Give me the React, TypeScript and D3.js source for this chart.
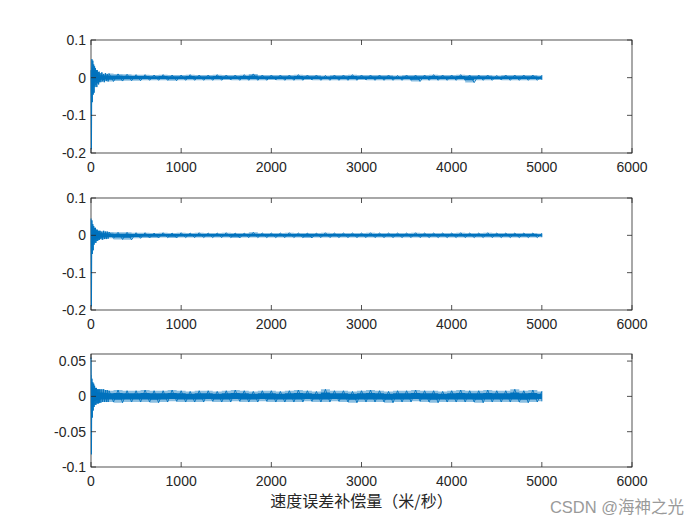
import React from "react";
import * as d3 from "d3";

// sample positions of envelope bins (fine near the start transient, 100 samples later)
const BIN_X = [
  0, 10, 20, 30, 40, 50, 60, 70, 80, 90, 100, 120, 140, 160, 180,
  200, 300, 400, 500, 600, 700, 800, 900, 1000, 1100,
  1200, 1300, 1400, 1500, 1600, 1700, 1800, 1900, 2000, 2100,
  2200, 2300, 2400, 2500, 2600, 2700, 2800, 2900, 3000, 3100,
  3200, 3300, 3400, 3500, 3600, 3700, 3800, 3900, 4000, 4100,
  4200, 4300, 4400, 4500, 4600, 4700, 4800, 4900, 5000,
];

// subplot 1 envelope (max / min of the signal within each bin)
const S1_HI = [
  0.02, 0.049, 0.045, 0.035, 0.03, 0.025, 0.02, 0.02, 0.015, 0.016, 0.012, 0.014, 0.01, 0.012, 0.01,
  0.011, 0.010, 0.009, 0.008, 0.008, 0.007, 0.008, 0.007, 0.007, 0.008,
  0.007, 0.007, 0.008, 0.007, 0.007, 0.008, 0.010, 0.007, 0.007, 0.007,
  0.007, 0.008, 0.007, 0.007, 0.006, 0.007, 0.007, 0.008, 0.007, 0.007,
  0.007, 0.007, 0.006, 0.007, 0.007, 0.007, 0.008, 0.007, 0.007, 0.008,
  0.007, 0.007, 0.007, 0.006, 0.007, 0.007, 0.007, 0.007, 0.006,
];
const S1_LO = [
  -0.19, -0.065, -0.045, -0.04, -0.025, -0.02, -0.025, -0.015, -0.018, -0.012, -0.012, -0.01, -0.012, -0.009, -0.01,
  -0.010, -0.009, -0.008, -0.008, -0.007, -0.007, -0.007, -0.008, -0.007, -0.007,
  -0.007, -0.007, -0.007, -0.006, -0.007, -0.007, -0.007, -0.007, -0.006, -0.007,
  -0.007, -0.007, -0.006, -0.007, -0.007, -0.007, -0.007, -0.007, -0.006, -0.007,
  -0.007, -0.007, -0.007, -0.007, -0.010, -0.007, -0.007, -0.007, -0.007, -0.007,
  -0.013, -0.007, -0.007, -0.006, -0.007, -0.007, -0.007, -0.007, -0.006,
];

// subplot 2 envelope
const S2_HI = [
  0.045, 0.04, 0.03, 0.025, 0.02, 0.02, 0.015, 0.015, 0.012, 0.012, 0.012, 0.01, 0.012, 0.01, 0.01,
  0.009, 0.008, 0.008, 0.007, 0.007, 0.006, 0.007, 0.006, 0.007, 0.006,
  0.007, 0.006, 0.006, 0.007, 0.006, 0.006, 0.008, 0.006, 0.006, 0.006,
  0.007, 0.006, 0.006, 0.006, 0.007, 0.006, 0.006, 0.006, 0.006, 0.007,
  0.006, 0.006, 0.006, 0.006, 0.007, 0.006, 0.006, 0.006, 0.006, 0.007,
  0.006, 0.006, 0.007, 0.006, 0.006, 0.006, 0.006, 0.006, 0.005,
];
const S2_LO = [
  -0.19, -0.05, -0.04, -0.025, -0.02, -0.02, -0.015, -0.015, -0.012, -0.012, -0.01, -0.012, -0.01, -0.01, -0.009,
  -0.008, -0.011, -0.012, -0.008, -0.007, -0.007, -0.006, -0.007, -0.006, -0.006,
  -0.006, -0.006, -0.006, -0.006, -0.007, -0.006, -0.006, -0.006, -0.006, -0.006,
  -0.006, -0.006, -0.007, -0.006, -0.006, -0.006, -0.006, -0.006, -0.006, -0.006,
  -0.006, -0.006, -0.006, -0.006, -0.006, -0.006, -0.006, -0.006, -0.006, -0.006,
  -0.006, -0.006, -0.006, -0.006, -0.006, -0.006, -0.006, -0.006, -0.005,
];

// subplot 3 envelope
const S3_HI = [
  0.055, 0.025, 0.02, 0.018, 0.015, 0.012, 0.012, 0.01, 0.01, 0.01, 0.01, 0.01, 0.01, 0.009, 0.009,
  0.008, 0.009, 0.008, 0.008, 0.009, 0.008, 0.008, 0.009, 0.008, 0.007,
  0.008, 0.008, 0.007, 0.008, 0.009, 0.008, 0.007, 0.008, 0.008, 0.007,
  0.008, 0.009, 0.008, 0.007, 0.010, 0.008, 0.008, 0.007, 0.008, 0.009,
  0.008, 0.007, 0.008, 0.008, 0.009, 0.008, 0.008, 0.007, 0.008, 0.009,
  0.008, 0.008, 0.009, 0.008, 0.008, 0.010, 0.008, 0.009, 0.007,
];
const S3_LO = [
  -0.082, -0.03, -0.02, -0.015, -0.012, -0.012, -0.01, -0.01, -0.01, -0.009, -0.009, -0.008, -0.008, -0.008, -0.008,
  -0.008, -0.009, -0.008, -0.008, -0.008, -0.009, -0.008, -0.007, -0.008, -0.008,
  -0.008, -0.007, -0.008, -0.008, -0.007, -0.008, -0.008, -0.007, -0.008, -0.008,
  -0.008, -0.008, -0.007, -0.008, -0.008, -0.007, -0.008, -0.009, -0.008, -0.008,
  -0.008, -0.009, -0.008, -0.008, -0.007, -0.008, -0.009, -0.008, -0.008, -0.008,
  -0.008, -0.009, -0.008, -0.008, -0.008, -0.008, -0.009, -0.008, -0.007,
];

const X_TICKS = [0, 1000, 2000, 3000, 4000, 5000, 6000];
const Y_TICKS_12 = [-0.2, -0.1, 0, 0.1];
const Y_TICK_LABELS_12 = ["-0.2", "-0.1", "0", "0.1"];
const Y_TICKS_3 = [-0.1, -0.05, 0, 0.05];
const Y_TICK_LABELS_3 = ["-0.1", "-0.05", "0", "0.05"];

const X_LABEL = "速度误差补偿量（米/秒）";
const WATERMARK = "CSDN @海神之光";

const LINE = "#0072BD";
const AX = "#262626";
const LEFT = 91;
const RIGHT = 632;

type Panel = {
  top: number;
  bottom: number;
  domain: [number, number];
  hi: number[];
  lo: number[];
  yTicks: number[];
  yLabels: string[];
};

const PANELS: Panel[] = [
  { top: 40, bottom: 153, domain: [-0.2, 0.1], hi: S1_HI, lo: S1_LO, yTicks: Y_TICKS_12, yLabels: Y_TICK_LABELS_12 },
  { top: 198, bottom: 310, domain: [-0.2, 0.1], hi: S2_HI, lo: S2_LO, yTicks: Y_TICKS_12, yLabels: Y_TICK_LABELS_12 },
  { top: 354, bottom: 467, domain: [-0.1, 0.06], hi: S3_HI, lo: S3_LO, yTicks: Y_TICKS_3, yLabels: Y_TICK_LABELS_3 },
];

const FONT = "'Liberation Sans', Arial, Helvetica, sans-serif";

type Row = { b: number; hi: number; lo: number };

function SubPlot({ p, i }: { p: Panel; i: number }) {
  const x = d3.scaleLinear().domain([0, 6000]).range([LEFT, RIGHT]);
  const y = d3.scaleLinear().domain(p.domain).range([p.bottom, p.top]);
  const rows: Row[] = BIN_X.map((b, k) => ({ b, hi: p.hi[k], lo: p.lo[k] }));
  const outer = d3
    .area<Row>()
    .x((d) => x(d.b))
    .y0((d) => y(d.lo))
    .y1((d) => y(d.hi))
    .curve(d3.curveStep);
  const inner = d3
    .area<Row>()
    .x((d) => x(d.b))
    .y0((d) => y(d.lo * 0.55))
    .y1((d) => y(d.hi * 0.55))
    .curve(d3.curveStep);
  // zig-zag trace through the envelope extremes (max then min in each bin)
  const zig: [number, number][] = [];
  rows.forEach((r, k) => {
    const next = k < rows.length - 1 ? rows[k + 1].b : r.b;
    zig.push([x(r.b), y(r.hi)]);
    zig.push([x((r.b + next) / 2), y(r.lo)]);
  });
  const zigLine = d3.line();
  const tl = 5;
  const clipId = `clip${i}`;
  return (
    <g>
      <defs>
        <clipPath id={clipId}>
          <rect x={LEFT - 1} y={p.top} width={RIGHT - LEFT + 1} height={p.bottom - p.top} />
        </clipPath>
      </defs>
      <rect x={LEFT} y={p.top} width={RIGHT - LEFT} height={p.bottom - p.top} fill="none" stroke={AX} strokeWidth={0.8} />
      <g clipPath={`url(#${clipId})`}>
        <path d={outer(rows) || ""} fill={LINE} fillOpacity={0.45} />
        <path d={inner(rows) || ""} fill={LINE} />
        <path d={zigLine(zig) || ""} fill="none" stroke={LINE} strokeWidth={0.9} />
      </g>
      {X_TICKS.map((t) => (
        <g key={"x" + t}>
          <line x1={x(t)} x2={x(t)} y1={p.bottom} y2={p.bottom - tl} stroke={AX} strokeWidth={0.8} />
          <line x1={x(t)} x2={x(t)} y1={p.top} y2={p.top + tl} stroke={AX} strokeWidth={0.8} />
          <text x={x(t)} y={p.bottom + 19} textAnchor="middle" fontSize={14} fill={AX} fontFamily={FONT}>
            {t}
          </text>
        </g>
      ))}
      {p.yTicks.map((t, k) => (
        <g key={"y" + t}>
          <line x1={LEFT} x2={LEFT + tl} y1={y(t)} y2={y(t)} stroke={AX} strokeWidth={0.8} />
          <line x1={RIGHT} x2={RIGHT - tl} y1={y(t)} y2={y(t)} stroke={AX} strokeWidth={0.8} />
          <text x={86} y={y(t) + 5} textAnchor="end" fontSize={14} fill={AX} fontFamily={FONT}>
            {p.yLabels[k]}
          </text>
        </g>
      ))}
    </g>
  );
}

export default function App() {
  return (
    <svg
      width={700}
      height={525}
      style={{ position: "absolute", left: 0, top: 0, background: "#fff" }}
    >
      <rect x={0} y={0} width={700} height={525} fill="#fff" />
      {PANELS.map((p, i) => (
        <SubPlot key={i} p={p} i={i} />
      ))}
      <text
        x={(LEFT + RIGHT) / 2}
        y={507}
        textAnchor="middle"
        fontSize={16}
        fill={AX}
        fontFamily="'Noto Sans CJK SC', sans-serif"
      >
        {X_LABEL}
      </text>
      <text
        x={684}
        y={513}
        textAnchor="end"
        fontSize={16.5}
        fill="#9a9a9a"
        fontFamily="'Liberation Sans', 'Noto Sans CJK SC', sans-serif"
      >
        {WATERMARK}
      </text>
    </svg>
  );
}
